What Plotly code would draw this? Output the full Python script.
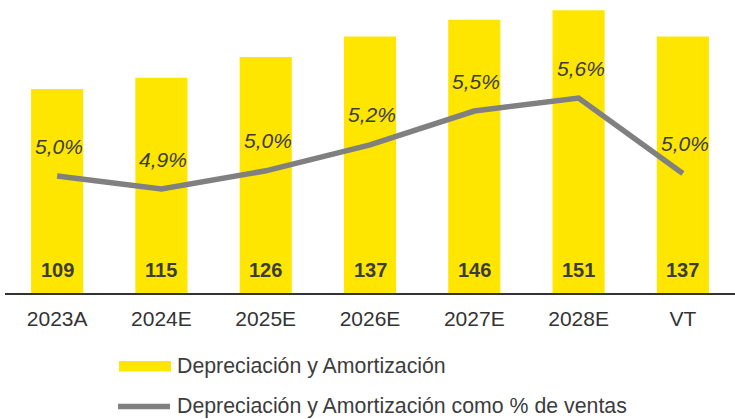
import plotly.graph_objects as go

# Depreciación y Amortización (bars) and as % of sales (line)
periods = ["2023A", "2024E", "2025E", "2026E", "2027E", "2028E", "VT"]
dya = [109, 115, 126, 137, 146, 151, 137]
dya_pct = [5.00, 4.90, 5.04, 5.24, 5.50, 5.60, 5.02]

legend_bar = "Depreciación y Amortización"
legend_line = "Depreciación y Amortización como % de ventas"

YELLOW = "#FFE600"
GREY = "#808080"
TEXT = "#3c3c3c"
AXIS = "#333333"
FONT = "Liberation Sans, Arial, sans-serif"

W, H = 735, 419
ML, MR, MT, MB = 5, 0, 0, 126
PW, PH = W - ML - MR, H - MT - MB


def px_x(x):
    return (x - ML) / PW


def px_y(y):
    return (H - MB - y) / PH


fig = go.Figure()

fig.add_trace(go.Bar(
    x=periods, y=dya, marker=dict(color=YELLOW, line=dict(width=0)),
    showlegend=False, hoverinfo="skip",
))

fig.add_trace(go.Scatter(
    x=periods, y=dya_pct, yaxis="y2", mode="lines",
    line=dict(color=GREY, width=5.5),
    showlegend=False, hoverinfo="skip",
))

annotations = []
# bold values at the foot of each bar
for p, v in zip(periods, dya):
    annotations.append(dict(
        x=p, y=0, xref="x", yref="y", text=f"<b>{v}</b>", showarrow=False,
        yanchor="middle", yshift=23,
        font=dict(family=FONT, size=20, color=TEXT),
    ))
# italic percentages above the line
for p, v in zip(periods, dya_pct):
    annotations.append(dict(
        x=p, y=v, xref="x", yref="y2",
        text=f"<i>{v:.1f}%</i>".replace(".", ","), showarrow=False,
        yanchor="middle", yshift=30, xshift=2,
        font=dict(family=FONT, size=21, color=TEXT),
    ))

# legend drawn beneath the axis
shapes = [
    dict(type="rect", xref="paper", yref="paper",
         x0=px_x(119), x1=px_x(171), y0=px_y(371.5), y1=px_y(361),
         fillcolor=YELLOW, line=dict(width=0)),
    dict(type="line", xref="paper", yref="paper",
         x0=px_x(118), x1=px_x(170), y0=px_y(406.5), y1=px_y(406.5),
         line=dict(color=GREY, width=5.5)),
]
for label, yc in ((legend_bar, 366), (legend_line, 406)):
    annotations.append(dict(
        x=px_x(175), y=px_y(yc), xref="paper", yref="paper", text=label,
        showarrow=False, xanchor="left", yanchor="middle",
        font=dict(family=FONT, size=21.3, color=TEXT),
    ))

fig.update_layout(
    width=W, height=H,
    margin=dict(l=ML, r=MR, t=MT, b=MB),
    paper_bgcolor="white", plot_bgcolor="white",
    bargap=0.5,
    font=dict(family=FONT, color=AXIS),
    xaxis=dict(
        type="category", showgrid=False, showline=True, linecolor=AXIS,
        linewidth=2, ticks="", tickfont=dict(family=FONT, size=21, color=AXIS),
        ticklabelstandoff=6,
    ),
    yaxis=dict(range=[0, 156.5], visible=False, showgrid=False, zeroline=False),
    yaxis2=dict(range=[4.1, 6.354], overlaying="y", visible=False,
                showgrid=False, zeroline=False),
    annotations=annotations,
    shapes=shapes,
    showlegend=False,
)

fig.write_html("out.html")
